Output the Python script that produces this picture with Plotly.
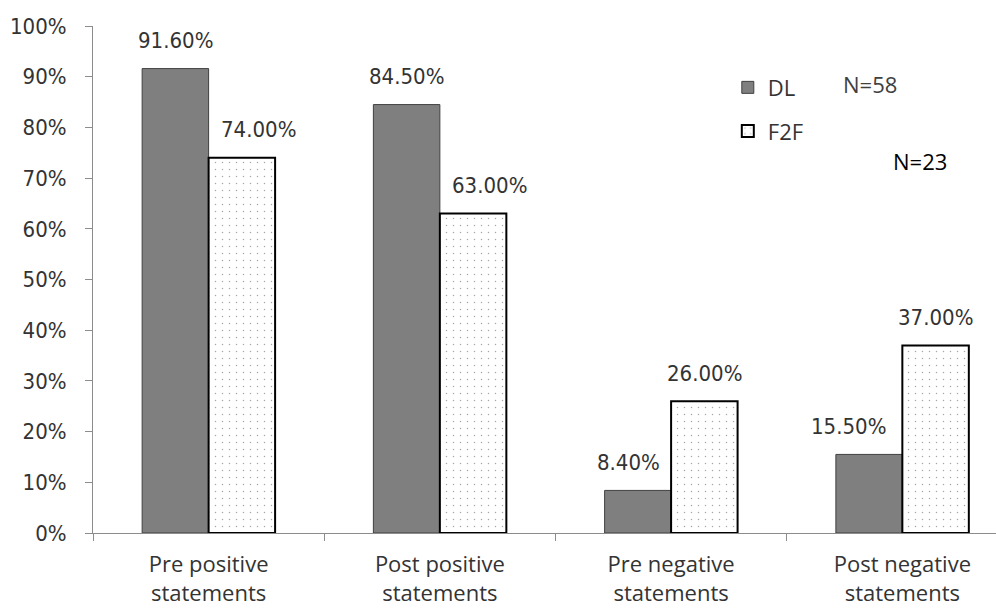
import plotly.graph_objects as go

categories = ["Pre positive<br>statements", "Post positive<br>statements",
              "Pre negative<br>statements", "Post negative<br>statements"]
dl_values = [0.916, 0.845, 0.084, 0.155]
f2f_values = [0.74, 0.63, 0.26, 0.37]
y_ticks = [i / 10 for i in range(11)]

# horizontal nudges (px) of the value labels relative to their bar
dl_label_dx = [0, 0, -10, -21]
f2f_label_dx = [17, 17, 0, 0]

num_font = "DejaVu Sans Condensed, DejaVu Sans"
cat_font = "Open Sans"
text_col = "#333333"
axis_col = "#8c8c8c"

fig = go.Figure()
fig.add_trace(go.Bar(
    name="DL", x=categories, y=dl_values, legendgroup="dl",
    marker=dict(color="#7f7f7f", line=dict(color="#404040", width=1)),
))
fig.add_trace(go.Bar(
    name="F2F", x=categories, y=f2f_values, legendgroup="f2f",
    marker=dict(color="white", line=dict(color="black", width=2),
                pattern=dict(shape=".", size=7, solidity=0.035,
                             fgcolor="#505050", bgcolor="white")),
))

# bar half-width offset in px: category width 231 px, bars ~66 px wide
half = 33
for i, c in enumerate(categories):
    for v, dx in ((dl_values[i], -half + dl_label_dx[i]),
                  (f2f_values[i], half + f2f_label_dx[i])):
        fig.add_annotation(x=c, y=v, text=f"{v*100:.2f}%", showarrow=False,
                           xshift=dx, yshift=28, xanchor="center",
                           font=dict(family=num_font, size=22, color=text_col))

fig.add_annotation(xref="paper", yref="paper", x=0.861, y=0.886, text="N=58",
                   xanchor="center", yanchor="middle", showarrow=False,
                   font=dict(family=cat_font, size=22, color="#404040"))
fig.add_annotation(xref="paper", yref="paper", x=0.916, y=0.733, text="N=23",
                   xanchor="center", yanchor="middle", showarrow=False,
                   font=dict(family=cat_font, size=22, color="black"))

fig.update_layout(
    width=996, height=608,
    margin=dict(l=93, r=0, t=26, b=75),
    paper_bgcolor="white", plot_bgcolor="white",
    barmode="group", bargap=0.425, bargroupgap=0,
    font=dict(family=cat_font, size=22, color=text_col),
    legend=dict(x=0.703, y=0.92, xanchor="left", yanchor="top",
                font=dict(family=cat_font, size=22, color=text_col),
                bgcolor="rgba(0,0,0,0)", tracegroupgap=12, itemwidth=30),
    xaxis=dict(range=[-0.5, 3.405], showline=True, linecolor=axis_col, linewidth=1,
               ticks="outside", tickson="boundaries", ticklen=7, tickcolor=axis_col,
               ticklabelstandoff=12,
               tickfont=dict(family=cat_font, size=22, color=text_col)),
    yaxis=dict(range=[0, 1], tickvals=y_ticks, tickformat=".0%",
               showline=True, linecolor=axis_col, linewidth=1,
               ticks="outside", ticklen=7, tickcolor=axis_col,
               ticklabelstandoff=14,
               showgrid=False, zeroline=False,
               tickfont=dict(family=num_font, size=22, color=text_col)),
)

fig.write_html("out.html")
